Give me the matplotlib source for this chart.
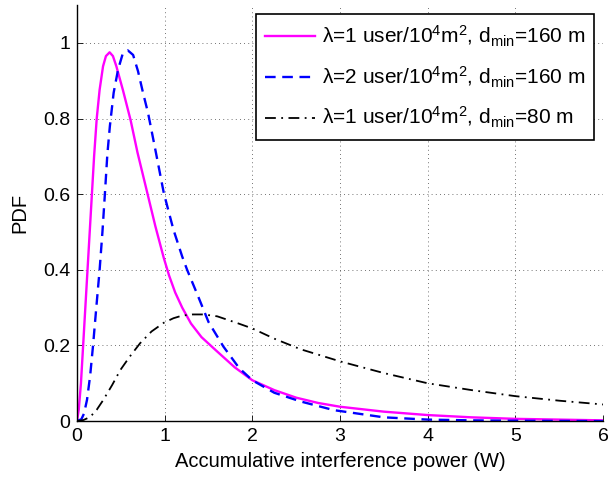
import numpy as np
import matplotlib.pyplot as plt

# curve readings (x in W, y = PDF)
x_l1_160 = [0, 0.02, 0.045, 0.07, 0.095, 0.12, 0.145, 0.17, 0.195, 0.225, 0.258, 0.297, 0.33,
            0.372, 0.41, 0.449, 0.525, 0.612, 0.69, 0.80, 0.894, 0.989, 1.05, 1.12, 1.2, 1.3,
            1.42, 1.58, 1.8, 2.0, 2.25, 2.5, 2.75, 3.0, 3.5, 4.0, 4.5, 5.0, 5.5, 6.0]
y_l1_160 = [0, 0.03, 0.1, 0.2, 0.3, 0.4, 0.5, 0.6, 0.7, 0.8, 0.876, 0.938, 0.965,
            0.975, 0.965, 0.938, 0.874, 0.795, 0.71, 0.605, 0.515, 0.432, 0.385, 0.34, 0.3, 0.258,
            0.222, 0.188, 0.142, 0.108, 0.082, 0.062, 0.048, 0.038, 0.025, 0.016, 0.01, 0.006,
            0.004, 0.002]

x_l2_160 = [0, 0.05, 0.08, 0.114, 0.15, 0.183, 0.22, 0.258, 0.29, 0.318, 0.346, 0.375, 0.418,
            0.468, 0.52, 0.58, 0.64, 0.696, 0.753, 0.81, 0.894, 0.99, 1.10, 1.2, 1.256, 1.39,
            1.5, 1.67, 1.85, 2.0, 2.25, 2.55, 2.93, 3.5, 4.0, 4.5, 5.0, 6.0]
y_l2_160 = [0, 0.005, 0.02, 0.056, 0.12, 0.2, 0.3, 0.4, 0.5, 0.6, 0.705, 0.78, 0.868,
            0.929, 0.97, 0.98, 0.968, 0.925, 0.868, 0.815, 0.717, 0.603, 0.506, 0.435, 0.4, 0.325,
            0.262, 0.197, 0.14, 0.108, 0.075, 0.052, 0.029, 0.01, 0.004, 0.002, 0.001, 0.0]

x_l1_80 = [0, 0.075, 0.15, 0.225, 0.3, 0.4, 0.494, 0.6, 0.72, 0.85, 0.99, 1.1, 1.2, 1.32,
           1.445, 1.6, 1.83, 2.0, 2.25, 2.55, 3.0, 3.5, 4.0, 4.5, 5.0, 5.5, 6.0]
y_l1_80 = [0, 0.003, 0.011, 0.03, 0.056, 0.095, 0.135, 0.17, 0.206, 0.237, 0.26, 0.272, 0.279,
           0.282, 0.282, 0.277, 0.259, 0.245, 0.218, 0.19, 0.158, 0.127, 0.10, 0.082, 0.066,
           0.054, 0.044]

labels = [r'λ=1 user/10$^4$m$^2$, d$_{min}$=160 m',
          r'λ=2 user/10$^4$m$^2$, d$_{min}$=160 m',
          r'λ=1 user/10$^4$m$^2$, d$_{min}$=80 m']

xticks = [0, 1, 2, 3, 4, 5, 6]
yticks = [0, 0.2, 0.4, 0.6, 0.8, 1]
yticklabels = ['0', '0.2', '0.4', '0.6', '0.8', '1']

plt.rcParams['font.family'] = ['Liberation Sans', 'DejaVu Sans']
plt.rcParams['mathtext.fontset'] = 'custom'
plt.rcParams['mathtext.rm'] = 'Liberation Sans'
plt.rcParams['mathtext.it'] = 'Liberation Sans'
plt.rcParams['mathtext.default'] = 'regular'

fig = plt.figure(figsize=(6.16, 4.78), dpi=100)
ax = fig.add_axes([0.125, 0.119, 0.854, 0.8705])

ax.plot(x_l1_160, y_l1_160, color='#ff00ff', lw=1.7, label=labels[0])
ax.plot(x_l2_160, y_l2_160, color='#0000ff', lw=1.7, ls=(0, (4.5, 2.8)), label=labels[1])
ax.plot(x_l1_80, y_l1_80, color='black', lw=1.3, ls=(0, (6, 3, 1, 3)), label=labels[2])

ax.set_xlim(0, 6)
ax.set_ylim(0, 1.1)
ax.set_xticks(xticks)
ax.set_yticks(yticks)
ax.set_yticklabels(yticklabels)
ax.tick_params(direction='in', labelsize=14, length=4, width=0.6, pad=5)
ax.grid(True, ls=(0, (1, 4)), color='#444444', lw=0.6)

for side in ['top', 'right']:
    ax.spines[side].set_visible(False)
for side in ['left', 'bottom']:
    ax.spines[side].set_linewidth(1.0)

ax.set_xlabel('Accumulative interference power (W)', fontsize=14.5, labelpad=5)
ax.set_ylabel('PDF', fontsize=14.5, labelpad=10)

leg = ax.legend(loc='upper right', bbox_to_anchor=(0.983, 0.978), fontsize=15, frameon=True,
                fancybox=False, framealpha=1, edgecolor='black', handlelength=2.4,
                handletextpad=0.3, borderpad=0.45, labelspacing=0.75, borderaxespad=0)
leg.get_frame().set_linewidth(1.2)

fig.savefig('out.png', dpi=100)
